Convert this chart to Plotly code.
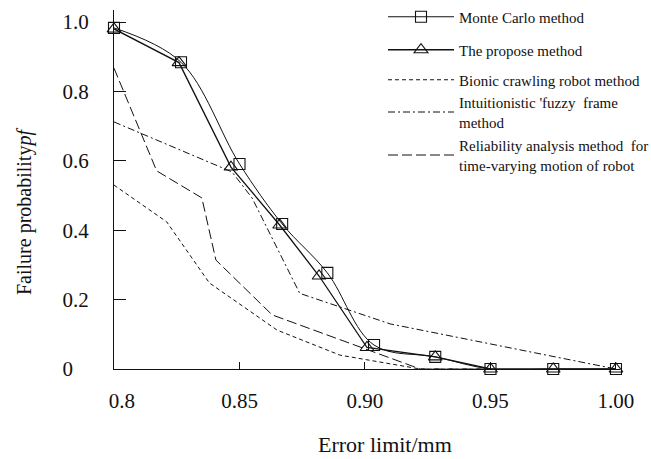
import plotly.graph_objects as go

# Error limit (mm) and failure probability values
x_mc = [0.8, 0.8267, 0.85, 0.867, 0.885, 0.9036, 0.928, 0.95, 0.975, 1.0]
y_mc = [0.983, 0.884, 0.591, 0.418, 0.277, 0.069, 0.035, 0.0, 0.0, 0.0]

x_pm = [0.8, 0.8259, 0.8466, 0.866, 0.8817, 0.9008, 0.928, 0.95, 0.975, 1.0]
y_pm = [0.98, 0.883, 0.582, 0.415, 0.268, 0.062, 0.035, 0.0, 0.0, 0.0]

x_bc = [0.8, 0.821, 0.838, 0.865, 0.89, 0.922, 0.95]
y_bc = [0.53, 0.424, 0.248, 0.112, 0.040, 0.0, 0.0]

x_if = [0.8, 0.847, 0.855, 0.874, 0.91, 1.0]
y_if = [0.712, 0.568, 0.493, 0.218, 0.13, 0.0]

x_ra = [0.8, 0.817, 0.835, 0.8406, 0.863, 0.922, 0.95]
y_ra = [0.867, 0.571, 0.493, 0.314, 0.156, 0.0, 0.0]

x_tickvals = [0.8, 0.85, 0.90, 0.95, 1.00]
x_ticktext = ["\u00a0\u00a0\u00a00.8", "0.85", "0.90", "0.95", "1.00"]
y_tickvals = [0, 0.2, 0.4, 0.6, 0.8, 1.0]
y_ticktext = ["0\u00a0\u00a0\u00a0", "0.2", "0.4", "0.6", "0.8", "1.0"]

names = [
    "Monte Carlo method",
    "The propose method",
    "Bionic crawling robot method",
    "Intuitionistic 'fuzzy  frame<br>method",
    "Reliability analysis method  for<br>time-varying motion of robot",
]
legend_ids = ["legend", "legend2", "legend3", "legend4", "legend5"]
legend_centers_px = [17, 50, 80, 112, 155]

FONT = "Liberation Serif"
BLACK = "#111111"

fig = go.Figure()
fig.add_trace(go.Scatter(
    x=x_mc, y=y_mc, name=names[0], mode="lines+markers", legend=legend_ids[0],
    line=dict(color=BLACK, width=1.0, shape="spline", smoothing=1.0),
    marker=dict(symbol="square-open", size=11, color=BLACK, line=dict(width=1.1)),
    cliponaxis=False))
fig.add_trace(go.Scatter(
    x=x_pm, y=y_pm, name=names[1], mode="lines+markers", legend=legend_ids[1],
    line=dict(color=BLACK, width=1.3),
    marker=dict(symbol="triangle-up-open", size=12, color=BLACK, line=dict(width=1.1)),
    cliponaxis=False))
fig.add_trace(go.Scatter(
    x=x_bc, y=y_bc, name=names[2], mode="lines", legend=legend_ids[2],
    line=dict(color=BLACK, width=1.0, dash="4px,3px"), cliponaxis=False))
fig.add_trace(go.Scatter(
    x=x_if, y=y_if, name=names[3], mode="lines", legend=legend_ids[3],
    line=dict(color=BLACK, width=1.0, dash="7px,3px,2px,3px"), cliponaxis=False))
fig.add_trace(go.Scatter(
    x=x_ra, y=y_ra, name=names[4], mode="lines", legend=legend_ids[4],
    line=dict(color=BLACK, width=1.0, dash="10px,4px"), cliponaxis=False))

legend_layouts = {}
for lid, cy in zip(legend_ids, legend_centers_px):
    legend_layouts[lid] = dict(
        x=(383 - 114) / 506, y=(369 - cy) / 359, xanchor="left", yanchor="middle",
        font=dict(family=FONT, size=15, color=BLACK),
        bgcolor="rgba(0,0,0,0)", itemwidth=66,
    )

fig.update_layout(
    width=651, height=459,
    margin=dict(l=114, r=31, t=10, b=90, autoexpand=False),
    paper_bgcolor="white", plot_bgcolor="white",
    font=dict(family=FONT, color=BLACK),
    showlegend=True,
    xaxis=dict(
        range=[0.8, 1.0016], showline=True, linecolor=BLACK, linewidth=1.3,
        ticks="inside", ticklen=7, tickcolor=BLACK, tickwidth=1.2,
        tickvals=x_tickvals, ticktext=x_ticktext,
        tickfont=dict(family=FONT, size=21, color=BLACK),
        ticklabelstandoff=13,
        showgrid=False, zeroline=False,
    ),
    yaxis=dict(
        range=[0, 1.0346], showline=True, linecolor=BLACK, linewidth=1.3,
        ticks="inside", ticklen=12, tickcolor=BLACK, tickwidth=1.2,
        tickvals=y_tickvals, ticktext=y_ticktext,
        tickfont=dict(family=FONT, size=21, color=BLACK),
        ticklabelstandoff=20,
        showgrid=False, zeroline=False,
    ),
    annotations=[
        dict(text="Error limit/mm", xref="paper", yref="paper",
             x=(385 - 114) / 506, y=(369 - 459) / 359,
             xanchor="center", yanchor="bottom", showarrow=False,
             font=dict(family=FONT, size=22, color=BLACK)),
        dict(text="Failure probability<i>pf</i>", xref="paper", yref="paper",
             x=(25 - 114) / 506, y=(369 - 212) / 359, textangle=-90,
             xanchor="center", yanchor="middle", showarrow=False,
             font=dict(family=FONT, size=20, color=BLACK)),
    ],
    **legend_layouts,
)

fig.write_html("out.html")
